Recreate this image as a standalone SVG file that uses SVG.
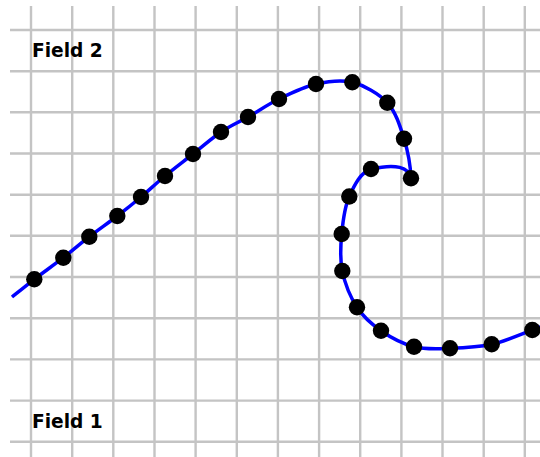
<svg xmlns="http://www.w3.org/2000/svg" width="540" height="457" viewBox="0 0 540 457">
<style>
.g{stroke:#c4c4c4;stroke-width:2.4;fill:none}
.lbl{font-family:"DejaVu Sans",sans-serif;font-weight:bold;font-size:18.6px;fill:#000}
.curve{stroke:#0000ff;stroke-width:3.5;fill:none;stroke-linejoin:round}
.pt{fill:#000}
</style>
<rect width="540" height="457" fill="#fff"/>
<g id="grid">
<path class="g" d="M31 6V457M72.2 6V457M113.3 6V457M154.5 6V457M195.6 6V457M236.8 6V457M277.9 6V457M319.1 6V457M360.2 6V457M401.4 6V457M442.5 6V457M483.7 6V457M524.8 6V457"/>
<path class="g" d="M10 30H540M10 71.2H540M10 112.3H540M10 153.5H540M10 194.7H540M10 235.8H540M10 277H540M10 318.2H540M10 359.4H540M10 400.6H540M10 441.7H540"/>
</g>
<g id="labels">
<text class="lbl" x="32" y="57.3">Field 2</text>
<text class="lbl" x="32" y="428.3">Field 1</text>
</g>
<g id="connectors">
<path class="curve" d="M12 297C15.7 294.05 25.75 285.85 34.3 279.3C42.85 272.75 54.13 264.8 63.3 257.7C72.47 250.6 80.3 243.65 89.3 236.7C98.3 229.75 108.68 222.62 117.3 216C125.92 209.38 133.05 203.67 141 197C148.95 190.33 156.33 183.17 165 176C173.67 168.83 183.67 161.33 193 154C202.33 146.67 211.83 138.17 221 132C230.17 125.83 238.33 122.5 248 117C257.67 111.5 267.67 104.5 279 99C290.33 93.5 303.78 86.78 316 84C328.22 81.22 340.42 79.18 352.3 82.3C364.18 85.42 378.68 93.3 387.3 102.7C395.92 112.1 400.05 126.1 404 138.7C407.95 151.3 410.5 166 411 178.3C409 167 396 163.5 371 169C360.72 172.03 354.18 185.67 349.3 196.5C344.42 207.33 342.87 221.58 341.7 234C340.53 246.42 339.75 258.78 342.3 271C344.85 283.22 350.55 297.35 357 307.3C363.45 317.25 371.5 324.13 381 330.7C390.5 337.27 402.5 343.77 414 346.7C425.5 349.63 437.05 348.7 450 348.3C462.95 347.9 477.98 347.35 491.7 344.3C505.42 341.25 522.92 333.38 532.3 330C541.68 326.62 545.4 325 548 324"/>
</g>
<g id="points">
<circle class="pt" cx="34.3" cy="279.3" r="8.2"/>
<circle class="pt" cx="63.3" cy="257.7" r="8.2"/>
<circle class="pt" cx="89.3" cy="236.7" r="8.2"/>
<circle class="pt" cx="117.3" cy="216" r="8.2"/>
<circle class="pt" cx="141" cy="197" r="8.2"/>
<circle class="pt" cx="165" cy="176" r="8.2"/>
<circle class="pt" cx="193" cy="154" r="8.2"/>
<circle class="pt" cx="221" cy="132" r="8.2"/>
<circle class="pt" cx="248" cy="117" r="8.2"/>
<circle class="pt" cx="279" cy="99" r="8.2"/>
<circle class="pt" cx="316" cy="84" r="8.2"/>
<circle class="pt" cx="352.3" cy="82.3" r="8.2"/>
<circle class="pt" cx="387.3" cy="102.7" r="8.2"/>
<circle class="pt" cx="404" cy="138.7" r="8.2"/>
<circle class="pt" cx="411" cy="178.3" r="8.2"/>
<circle class="pt" cx="371" cy="169" r="8.2"/>
<circle class="pt" cx="349.3" cy="196.5" r="8.2"/>
<circle class="pt" cx="341.7" cy="234" r="8.2"/>
<circle class="pt" cx="342.3" cy="271" r="8.2"/>
<circle class="pt" cx="357" cy="307.3" r="8.2"/>
<circle class="pt" cx="381" cy="330.7" r="8.2"/>
<circle class="pt" cx="414" cy="346.7" r="8.2"/>
<circle class="pt" cx="450" cy="348.3" r="8.2"/>
<circle class="pt" cx="491.7" cy="344.3" r="8.2"/>
<circle class="pt" cx="532.3" cy="330" r="8.2"/>
</g>
</svg>
